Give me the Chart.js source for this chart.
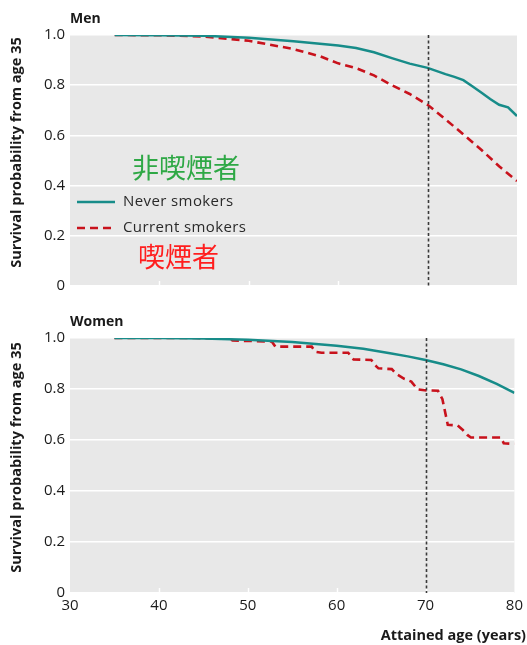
<!DOCTYPE html>
<html>
<head>
<meta charset="utf-8">
<script src="https://cdn.jsdelivr.net/npm/chart.js@4.4.1/dist/chart.umd.min.js"></script>
<style>
  html, body { margin: 0; padding: 0; background: #fff; }
  #wrap { position: relative; width: 527px; height: 645px; }
  #wrap canvas { position: absolute; left: 0; }
  #men { top: 0; }
  #women { top: 300px; }
</style>
</head>
<body>
<div id="wrap">
  <canvas id="men" width="527" height="300"></canvas>
  <canvas id="women" width="527" height="345"></canvas>
</div>
<script>
// Axis ticks
const xTicks = [30, 40, 50, 60, 70, 80];
const yTicks = [0, 0.2, 0.4, 0.6, 0.8, 1.0];
const referenceAge = 70;

// Men
const menNeverAges = [35, 40, 45, 50, 55, 60, 62, 64, 66, 68, 70, 72, 73, 74, 75, 76, 77, 78, 79, 80];
const menNeverSurv = [1.0, 0.999, 0.997, 0.989, 0.975, 0.958, 0.948, 0.931, 0.908, 0.886, 0.869, 0.844, 0.833, 0.82, 0.796, 0.771, 0.745, 0.722, 0.712, 0.677];
const menCurrentAges = [35, 40, 45, 50, 55, 58, 60, 62, 64, 66, 68, 70, 72, 74, 76, 78, 80];
const menCurrentSurv = [1.0, 0.999, 0.994, 0.977, 0.944, 0.915, 0.887, 0.868, 0.839, 0.8, 0.765, 0.722, 0.664, 0.604, 0.543, 0.477, 0.418];

// Women
const womenNeverAges = [35, 40, 45, 50, 55, 60, 63, 66, 68, 70, 72, 74, 76, 78, 80];
const womenNeverSurv = [1.0, 1.0, 0.998, 0.993, 0.984, 0.97, 0.958, 0.94, 0.928, 0.914, 0.897, 0.877, 0.851, 0.82, 0.785];
const womenCurrentAges = [35, 44, 48, 48.3, 52.7, 53.1, 57.2, 57.6, 58.3, 61.3, 61.9, 63.9, 64.3, 64.7, 66.2, 66.7, 67.6, 68.4, 69.1, 69.9, 71.4, 71.9, 72.5, 73.6, 74.2, 74.7, 75.1, 78.5, 78.8, 80];
const womenCurrentSurv = [1.0, 1.0, 0.997, 0.99, 0.986, 0.966, 0.966, 0.946, 0.942, 0.942, 0.916, 0.914, 0.894, 0.881, 0.878, 0.859, 0.84, 0.829, 0.799, 0.795, 0.793, 0.76, 0.66, 0.657, 0.639, 0.62, 0.61, 0.61, 0.587, 0.585];

const seriesNames = ['Never smokers', 'Current smokers'];
const NEVER_COLOR = '#178c89';
const CURRENT_COLOR = '#c8121c';
const TEXT_COLOR = '#1a1a1a';
const FONT = '"Open Sans", "DejaVu Sans", sans-serif';

function points(ages, vals) {
  return ages.map((a, i) => ({ x: a, y: vals[i] }));
}

const panelDecor = {
  id: 'panelDecor',
  beforeDraw(chart) {
    const { ctx, chartArea: a } = chart;
    ctx.save();
    ctx.fillStyle = '#e8e8e8';
    ctx.fillRect(a.left, a.top, a.right - a.left, a.bottom - a.top);
    ctx.restore();
  },
  afterDatasetsDraw(chart) {
    const { ctx, chartArea: a, scales: { x } } = chart;
    ctx.save();
    // short white tick marks along the bottom edge
    ctx.strokeStyle = '#ffffff';
    ctx.lineWidth = 1.5;
    xTicks.slice(1, -1).forEach(v => {
      const px = Math.round(x.getPixelForValue(v)) + 0.5;
      ctx.beginPath();
      ctx.moveTo(px, a.bottom);
      ctx.lineTo(px, a.bottom - 5);
      ctx.stroke();
    });
    // reference age line
    const rx = Math.round(x.getPixelForValue(referenceAge)) + 0.5;
    ctx.strokeStyle = '#3a3a3a';
    ctx.lineWidth = 1.6;
    ctx.setLineDash([3, 2.5]);
    ctx.beginPath();
    ctx.moveTo(rx, a.top);
    ctx.lineTo(rx, a.bottom);
    ctx.stroke();
    ctx.restore();
  },
  afterDraw(chart, args, o) {
    const { ctx, chartArea: a } = chart;
    ctx.save();
    // panel title
    ctx.fillStyle = TEXT_COLOR;
    ctx.font = 'bold 14px ' + FONT;
    ctx.textAlign = 'left';
    ctx.textBaseline = 'middle';
    ctx.fillText(o.title, a.left, a.top - 16);

    // y axis title
    ctx.save();
    ctx.translate(17, (a.top + a.bottom) / 2 - 8);
    ctx.rotate(-Math.PI / 2);
    ctx.textAlign = 'center';
    ctx.font = 'bold 14.5px ' + FONT;
    ctx.fillText('Survival probability from age 35', 0, 0);
    ctx.restore();

    if (o.legend) {
      const ds = chart.data.datasets;
      const lx = a.left + 7;
      const rows = [a.top + 167, a.top + 193];
      ds.forEach((d, i) => {
        ctx.save();
        ctx.strokeStyle = d.borderColor;
        ctx.lineWidth = d.borderWidth;
        ctx.setLineDash(d.borderDash || []);
        ctx.beginPath();
        ctx.moveTo(lx, rows[i]);
        ctx.lineTo(lx + 38, rows[i]);
        ctx.stroke();
        ctx.restore();
        ctx.save();
        ctx.fillStyle = '#2a2a2a';
        ctx.font = '15px ' + FONT;
        ctx.letterSpacing = '0.4px';
        ctx.textAlign = 'left';
        ctx.textBaseline = 'middle';
        ctx.fillText(d.label, lx + 46, rows[i]);
        ctx.restore();
      });
      ctx.textAlign = 'left';
      ctx.textBaseline = 'middle';
      ctx.font = '27px "Noto Sans CJK JP", sans-serif';
      ctx.fillStyle = '#2ea845';
      ctx.fillText('非喫煙者', a.left + 62, a.top + 133);
      ctx.fillStyle = '#ff1e1e';
      ctx.fillText('喫煙者', a.left + 68, a.top + 222);
    }

    if (o.xTitle) {
      ctx.fillStyle = TEXT_COLOR;
      ctx.font = 'bold 14.5px ' + FONT;
      ctx.textAlign = 'right';
      ctx.textBaseline = 'middle';
      ctx.fillText(o.xTitle, chart.width - 1, chart.height - 9);
    }
    ctx.restore();
  }
};

function panelConfig(never, current, opts) {
  return {
    type: 'line',
    data: {
      datasets: [
        {
          label: seriesNames[0],
          data: never,
          borderColor: NEVER_COLOR,
          borderWidth: 2.5,
          pointRadius: 0,
          tension: 0,
          fill: false
        },
        {
          label: seriesNames[1],
          data: current,
          borderColor: CURRENT_COLOR,
          borderWidth: 2.6,
          borderDash: [8, 5],
          pointRadius: 0,
          tension: 0,
          fill: false
        }
      ]
    },
    options: {
      responsive: false,
      animation: false,
      parsing: false,
      layout: { padding: { top: opts.top, right: 10, bottom: opts.bottom, left: 0 } },
      plugins: {
        legend: { display: false },
        tooltip: { enabled: false },
        panelDecor: opts.decor
      },
      scales: {
        x: {
          type: 'linear',
          display: opts.showX,
          min: 30,
          max: 80,
          afterBuildTicks: s => { s.ticks = xTicks.map(v => ({ value: v })); },
          afterFit: s => { s.height = opts.xHeight || 0; },
          grid: { display: false, drawTicks: false },
          border: { display: false },
          ticks: {
            padding: 4,
            color: TEXT_COLOR,
            font: { family: FONT, size: 15 },
            maxRotation: 0
          }
        },
        y: {
          type: 'linear',
          min: 0,
          max: 1,
          afterBuildTicks: s => { s.ticks = yTicks.map(v => ({ value: v })); },
          afterFit: s => { s.width = 70; },
          grid: { color: '#ffffff', lineWidth: 1.5, drawTicks: false },
          border: { display: false },
          ticks: {
            padding: 5,
            color: TEXT_COLOR,
            font: { family: FONT, size: 15 },
            callback: v => (v === 0 ? '0' : v.toFixed(1))
          }
        }
      }
    },
    plugins: [panelDecor]
  };
}

new Chart(document.getElementById('men'), panelConfig(
  points(menNeverAges, menNeverSurv),
  points(menCurrentAges, menCurrentSurv),
  { top: 35, bottom: 10, showX: false, decor: { title: 'Men', legend: true } }
));

new Chart(document.getElementById('women'), panelConfig(
  points(womenNeverAges, womenNeverSurv),
  points(womenCurrentAges, womenCurrentSurv),
  { top: 38, bottom: 0, showX: true, xHeight: 52, decor: { title: 'Women', legend: false, xTitle: 'Attained age (years)' } }
));
</script>
</body>
</html>
